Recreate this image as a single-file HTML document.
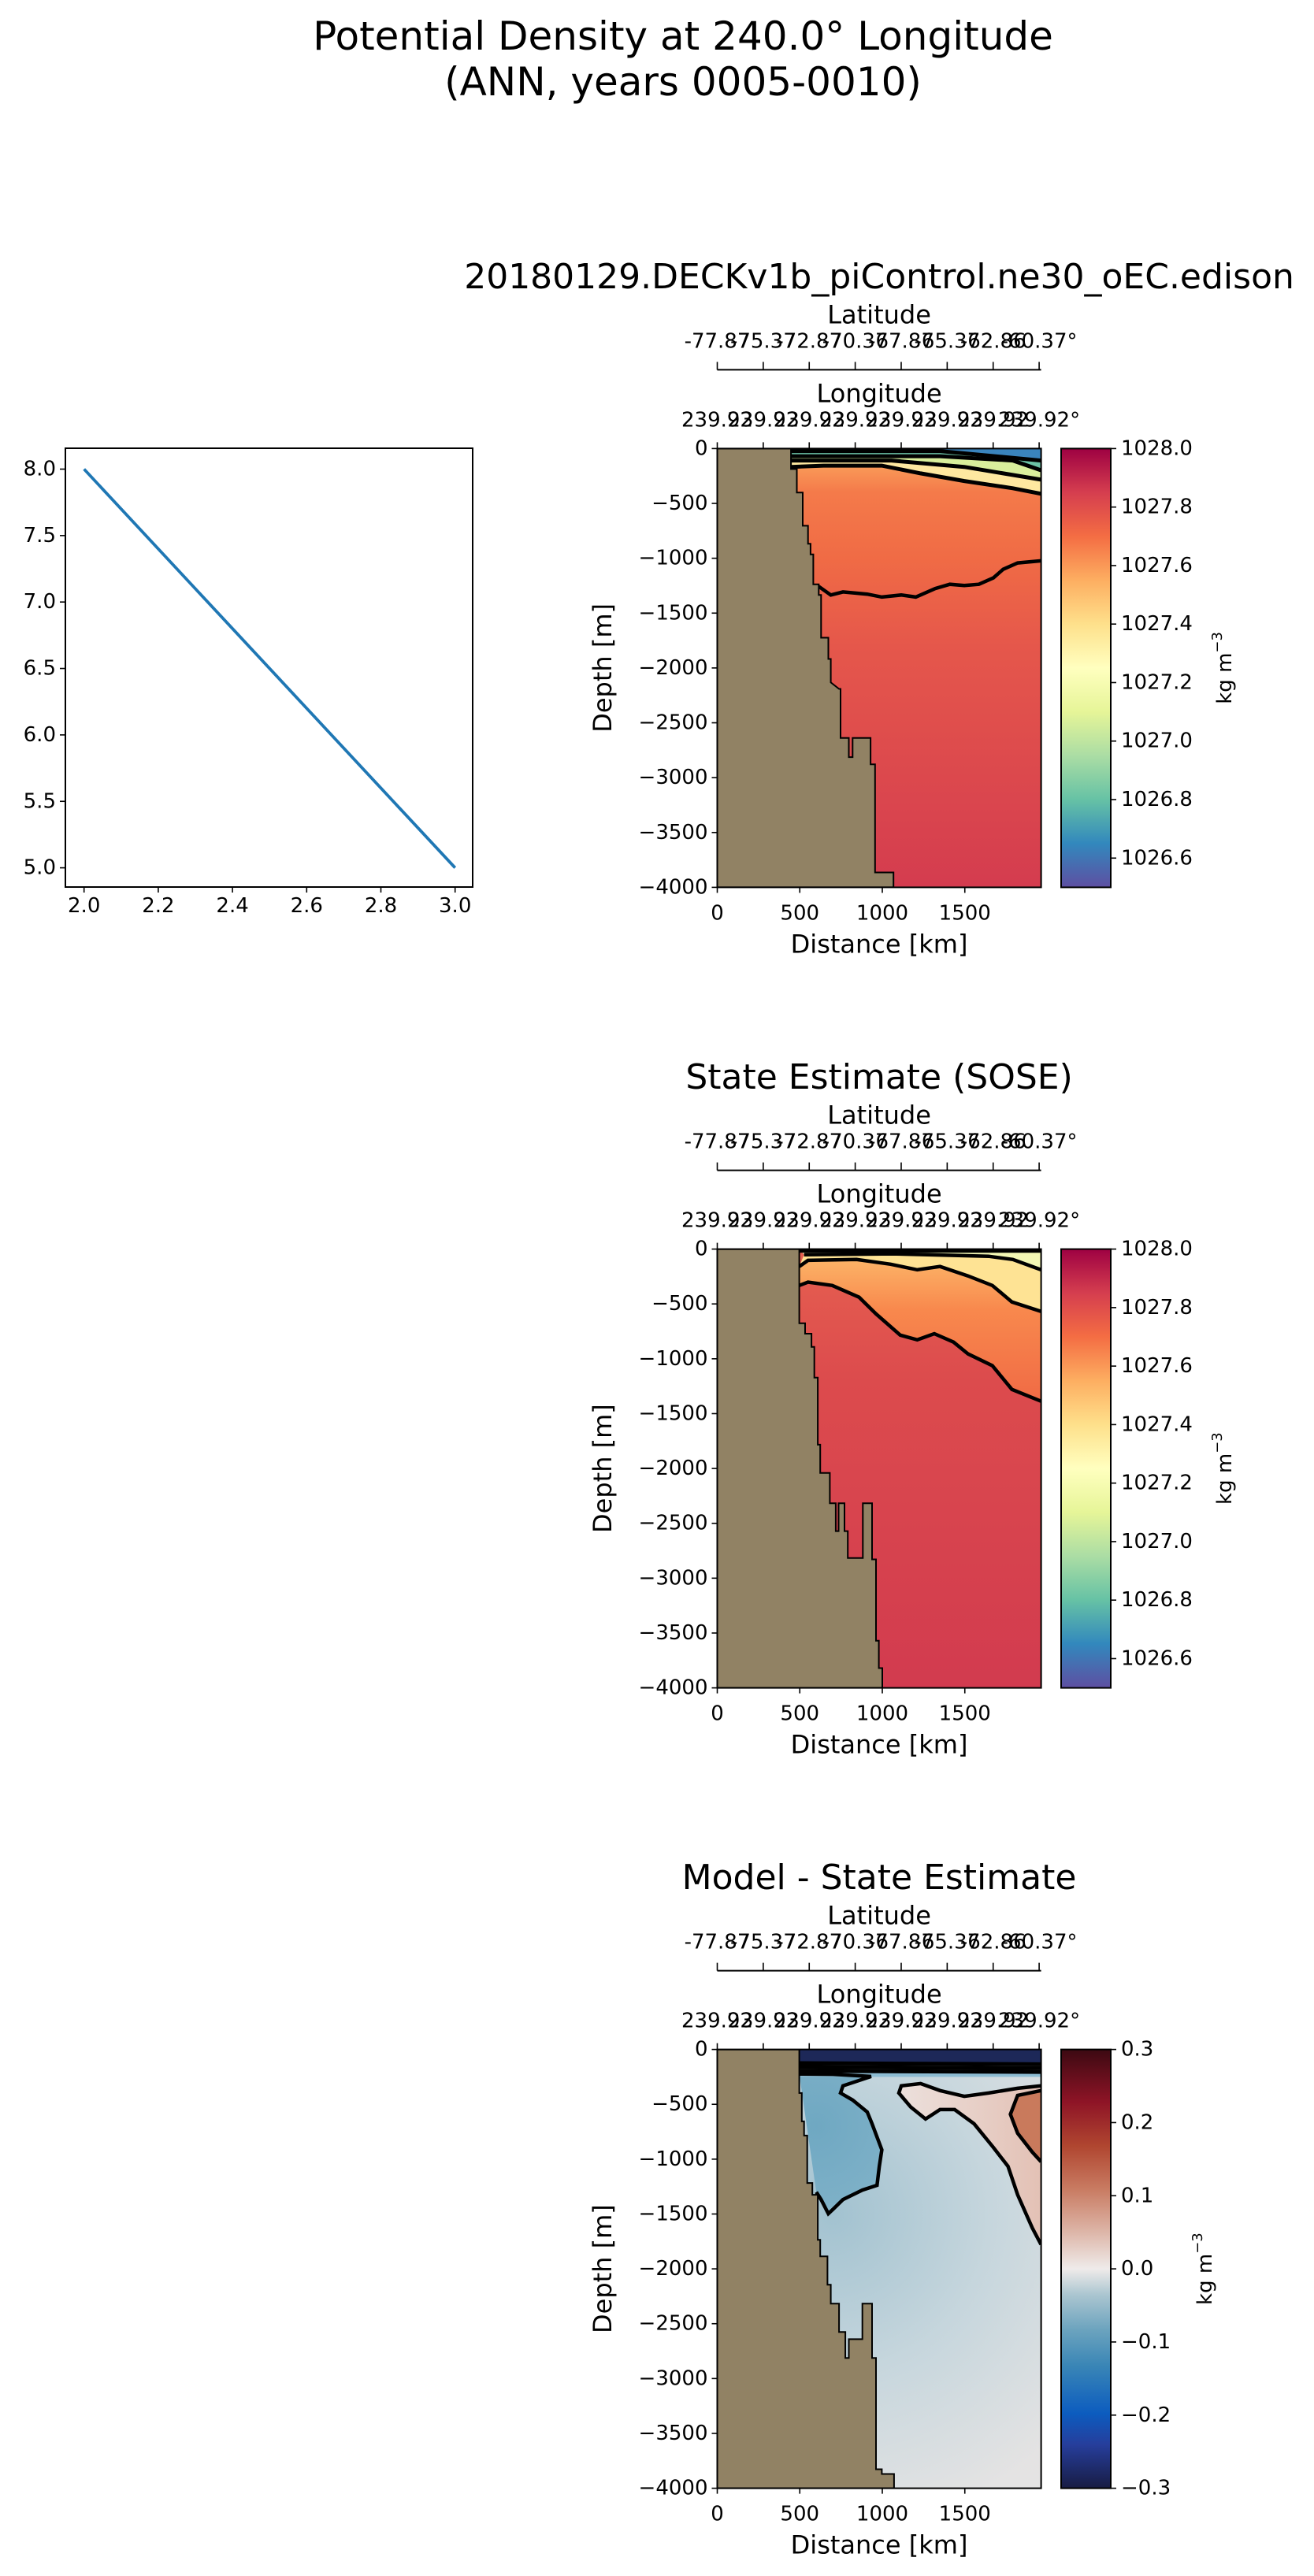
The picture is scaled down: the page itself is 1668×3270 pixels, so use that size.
<!DOCTYPE html>
<html><head><meta charset="utf-8"><style>
html,body{margin:0;padding:0;background:#fff;}
svg{display:block;font-family:"DejaVu Sans","Liberation Sans",sans-serif;}
</style></head><body>
<svg id="fig" width="1668" height="3270" viewBox="0 0 1668 3270" xmlns="http://www.w3.org/2000/svg">
<defs id="defs"></defs>
<text x="867" y="46" font-size="50" text-anchor="middle" dominant-baseline="central">Potential Density at 240.0° Longitude</text>
<text x="867" y="104" font-size="50" text-anchor="middle" dominant-baseline="central">(ANN, years 0005-0010)</text>
</svg>
<script>
// ---------- data ----------
const lineX = [2.0, 3.0];
const lineY = [8.0, 5.0];
const lineXTicks = [2.0, 2.2, 2.4, 2.6, 2.8, 3.0];
const lineYTicks = [5.0, 5.5, 6.0, 6.5, 7.0, 7.5, 8.0];

const distTicks = [0, 500, 1000, 1500];
const depthTicks = [0, 500, 1000, 1500, 2000, 2500, 3000, 3500, 4000];
const latLabels = ["-77.87", "-75.37", "-72.87", "-70.37", "-67.87", "-65.37", "-62.86", "-60.37°"];
const lonLabels = ["239.92", "239.92", "239.92", "239.92", "239.92", "239.92", "239.92", "239.92°"];
const densTicks = [1026.6, 1026.8, 1027.0, 1027.2, 1027.4, 1027.6, 1027.8, 1028.0];
const diffTicks = [-0.3, -0.2, -0.1, 0.0, 0.1, 0.2, 0.3];
const panelTitles = ["20180129.DECKv1b_piControl.ne30_oEC.edison", "State Estimate (SOSE)", "Model - State Estimate"];

// bathymetry [km, depth m]
const landP1 = [[0,0],[447,0],[447,187],[482,187],[482,401],[518,401],[518,704],[550,704],[550,868],[565,868],[565,965],[582,965],[582,1237],[615,1237],[615,1335],[629,1335],[629,1724],[673,1724],[673,1918],[688,1918],[688,2132],[738,2191],[747,2191],[747,2638],[797,2638],[797,2813],[820,2813],[820,2638],[929,2638],[929,2879],[956,2879],[956,3864],[1068,3864],[1068,4000],[0,4000]];
const landP2 = [[0,0],[497,0],[497,676],[532,676],[532,771],[571,771],[571,891],[588,891],[588,1171],[609,1171],[609,1783],[624,1783],[624,2041],[682,2041],[682,2317],[718,2317],[718,2571],[735,2571],[735,2317],[771,2317],[771,2571],[791,2571],[791,2816],[882,2816],[882,2317],[938,2317],[938,2829],[962,2829],[962,3570],[979,3570],[979,3820],[1000,3820],[1000,4000],[0,4000]];
const landP3 = [[0,0],[497,0],[497,397],[512,397],[512,656],[526,656],[526,785],[545,785],[545,1217],[576,1217],[576,1325],[609,1325],[609,1735],[624,1735],[624,1886],[668,1886],[668,2145],[688,2145],[688,2317],[738,2317],[738,2576],[776,2576],[776,2813],[797,2813],[797,2641],[879,2641],[879,2317],[938,2317],[938,2813],[962,2813],[962,3827],[997,3827],[997,3870],[1071,3870],[1071,4000],[0,4000]];

// contours [km, depth m]
const p1Deep = [[615,1257],[688,1335],[762,1307],[909,1327],[997,1354],[1115,1335],[1203,1354],[1321,1276],[1409,1237],[1497,1249],[1585,1237],[1673,1179],[1732,1101],[1820,1043],[1962,1023]];
const p1C1 = [[447,167],[644,156],[997,156],[1232,226],[1497,296],[1791,362],[1962,412]];
const p1C2 = [[447,109],[1056,109],[1497,167],[1962,284]];
const p1C3 = [[447,70],[1350,70],[1791,109],[1962,198]];
const p1C4 = [[447,23],[1350,23],[1962,109]];
const p2L1 = [[497,332],[550,301],[697,332],[859,439],[962,590],[1109,784],[1212,827],[1315,771],[1432,848],[1520,956],[1667,1063],[1785,1279],[1962,1387]];
const p2L2 = [[497,159],[550,103],[844,95],[1050,138],[1212,189],[1350,159],[1520,245],[1667,332],[1785,482],[1962,568]];
const p2L3 = [[526,52],[1056,43],[1644,65],[1791,95],[1962,189]];
const p2L4 = [[497,17],[1962,17]];
const p3Blue = [[497,224],[700,226],[932,246],[762,332],[747,397],[821,462],[909,570],[938,677],[997,915],[982,1066],[968,1238],[879,1282],[762,1368],[703,1454],[673,1497],[629,1368],[600,1300]];
const p3RedTop = [[1115,332],[1232,311],[1350,375],[1497,427],[1644,397],[1820,354],[1962,332]];
const p3RedOuter = [[1115,332],[1100,397],[1173,526],[1262,634],[1350,548],[1438,548],[1556,677],[1673,893],[1762,1066],[1820,1325],[1909,1627],[1962,1778]];
const p3RedInner = [[1962,375],[1820,419],[1776,591],[1820,764],[1909,936],[1962,1023]];
const p3Surface = [[497,125],[1962,135]];
const p3Surface2 = [[497,160],[1962,170]];
const p3Surface3 = [[497,195],[1962,205]];

// ---------- drawing ----------
const NS = "http://www.w3.org/2000/svg";
const svg = document.getElementById("fig");
const defs = document.getElementById("defs");
function mk(tag, attrs, parent) {
  const e = document.createElementNS(NS, tag);
  for (const k in attrs) e.setAttribute(k, attrs[k]);
  (parent || svg).appendChild(e);
  return e;
}
function txt(str, attrs, parent) { const t = mk("text", attrs, parent); t.textContent = str; return t; }
function fmtMinus(v, d) { const s = Math.abs(v).toFixed(d); return (v < 0 ? "\u2212" : "") + s; }
function grad(id, x1, y1, x2, y2, stops) {
  const g = mk("linearGradient", {id: id, gradientUnits: "userSpaceOnUse", x1: x1, y1: y1, x2: x2, y2: y2}, defs);
  stops.forEach(s => mk("stop", {offset: s[0], "stop-color": s[1]}, g));
  return g;
}

// ---- line plot ----
const LX0 = 83, LX1 = 600, LY0 = 569, LY1 = 1126;
const lxs = v => 106.7 + (v - 2.0) / 1.0 * (577.7 - 106.7);
const lys = v => 1101.6 - (v - 5.0) / 3.0 * (1101.6 - 595.5);
const lineG = mk("g", {});


lineXTicks.forEach(v => {
  const tk = mk("line", {x1: lxs(v), x2: lxs(v), y1: LY1, y2: LY1 + 7, stroke: "#000", "stroke-width": 1.6}, lineG);
  
  
  const tl = txt(v.toFixed(1), {x: lxs(v), y: LY1 + 24, "font-size": 26, "text-anchor": "middle", "dominant-baseline": "central"}, lineG);
  
  
});
lineYTicks.forEach(v => {
  const tk = mk("line", {x1: LX0 - 7, x2: LX0, y1: lys(v), y2: lys(v), stroke: "#000", "stroke-width": 1.6}, lineG);
  
  
  const tl = txt(v.toFixed(1), {x: LX0 - 12, y: lys(v), "font-size": 26, "text-anchor": "end", "dominant-baseline": "central"}, lineG);
  
  
});
const series = mk("polyline", {points: lineX.map((x, i) => lxs(x) + "," + lys(lineY[i])).join(" "), fill: "none", stroke: "#1f77b4", "stroke-width": 3.8}, lineG);


const lframe = mk("rect", {x: LX0, y: LY0, width: LX1 - LX0, height: LY1 - LY0, fill: "none", stroke: "#000", "stroke-width": 2}, lineG);



// ---- section panels ----
const tops = [569.4, 1585.6, 2601.6];
const PX0 = 910.5, PX1 = 1321.6, PH = 557;
const sx = km => PX0 + km * 0.2095;

const spectral = [[0,"#5e4fa2"],[0.1,"#3288bd"],[0.2,"#66c2a5"],[0.3,"#abdda4"],[0.4,"#e6f598"],[0.5,"#ffffbf"],[0.6,"#fee08b"],[0.7,"#fdae61"],[0.8,"#f46d43"],[0.9,"#d53e4f"],[1,"#9e0142"]];
const balance = [[0,"#181c43"],[0.1,"#263e9c"],[0.17,"#0c5cbf"],[0.28,"#3a86b6"],[0.36,"#6ba3be"],[0.44,"#aac5d0"],[0.5,"#efebea"],[0.58,"#deb8ab"],[0.68,"#c97c63"],[0.78,"#b04630"],[0.88,"#8e1426"],[1,"#3c0912"]];

function panel(i) {
  const T = tops[i];
  const sy = d => T + d / 4000 * PH;
  const pts = arr => arr.map(p => sx(p[0]).toFixed(1) + "," + sy(p[1]).toFixed(1)).join(" ");
  const band = (upper, lower) => pts(upper) + " " + pts(lower.slice().reverse());
  const g = mk("g", {});
  
  

  const title = txt(panelTitles[i], {x: (PX0 + PX1) / 2, y: T - 218, "font-size": 44, "text-anchor": "middle", "dominant-baseline": "central"}, g);
  
  

  const cp = mk("clipPath", {id: "clip" + i}, defs);
  mk("rect", {x: PX0, y: T, width: PX1 - PX0, height: PH}, cp);
  const plot = mk("g", {"clip-path": "url(#clip" + i + ")"}, g);
  
  

  if (i === 0) {
    grad("bg0", 0, T, 0, T + PH, [[0,"#fdae61"],[0.1,"#f47a4a"],[0.25,"#f06b45"],[0.45,"#e5574b"],[1,"#d43c4f"]]);
    mk("rect", {x: PX0, y: T, width: PX1 - PX0, height: PH, fill: "url(#bg0)"}, plot);
    mk("polygon", {points: band([[447,0],[1962,0]], p1C1), fill: "#fdd07f"}, plot);
    mk("polygon", {points: band(p1C2, p1C1), fill: "#fee8a0"}, plot);
    mk("polygon", {points: band(p1C3, p1C2), fill: "#d9ef9c"}, plot);
    mk("polygon", {points: band(p1C4, p1C3), fill: "#6cc3a6"}, plot);
    mk("polygon", {points: band([[447,0],[1962,0]], p1C4), fill: "#3a84bd"}, plot);
    [p1C1, p1C2, p1C3, p1C4].forEach(c => {
      const l = mk("polyline", {points: pts(c), fill: "none", stroke: "#000", "stroke-width": 5}, plot);
      
      
    });
    const d = mk("polyline", {points: pts(p1Deep), fill: "none", stroke: "#000", "stroke-width": 4.5}, plot);
    
    
  } else if (i === 1) {
    grad("bg1", 0, T, 0, T + PH, [[0,"#e66050"],[0.3,"#dc4b4d"],[1,"#d23b4f"]]);
    mk("rect", {x: PX0, y: T, width: PX1 - PX0, height: PH, fill: "url(#bg1)"}, plot);
    grad("or1", 0, T, 0, T + PH * 0.35, [[0,"#fdbc6c"],[0.4,"#f8884d"],[1,"#f06a45"]]);
    mk("polygon", {points: band(p2L2, p2L1), fill: "url(#or1)"}, plot);
    mk("polygon", {points: band(p2L3, p2L2), fill: "#fee394"}, plot);
    mk("polygon", {points: band([[497,0],[1962,0]], p2L3), fill: "#f3f7b4"}, plot);
    [p2L1, p2L2, p2L3, p2L4].forEach(c => {
      const l = mk("polyline", {points: pts(c), fill: "none", stroke: "#000", "stroke-width": 4.5}, plot);
      
      
    });
  } else {
    const rg = mk("radialGradient", {id: "bg2", gradientUnits: "userSpaceOnUse", cx: sx(700), cy: sy(1500), r: 400}, defs);
    [[0,"#a2c2d0"],[0.5,"#c6d6dd"],[1,"#e4e3e3"]].forEach(s => mk("stop", {offset: s[0], "stop-color": s[1]}, rg));
    mk("rect", {x: PX0, y: T, width: PX1 - PX0, height: PH, fill: "#e4e3e3"}, plot);
    mk("rect", {x: PX0, y: T, width: PX1 - PX0, height: PH, fill: "url(#bg2)"}, plot);
    const bg = mk("radialGradient", {id: "blue2", gradientUnits: "userSpaceOnUse", cx: sx(600), cy: sy(700), r: 140}, defs);
    [[0,"#6fa8c2"],[0.7,"#7db0c7"],[1,"#9cc0d0"]].forEach(s => mk("stop", {offset: s[0], "stop-color": s[1]}, bg));
    mk("polygon", {points: pts(p3Blue), fill: "url(#blue2)"}, plot);
    grad("pink2", sx(1100), 0, sx(1962), 0, [[0,"#ece0dc"],[1,"#e3c1b5"]]);
    mk("polygon", {points: pts(p3RedTop) + " " + pts(p3RedOuter.slice().reverse()) + " " + sx(1962) + "," + sy(1778), fill: "url(#pink2)"}, plot);
    mk("polygon", {points: pts(p3RedInner), fill: "#c97a5c"}, plot);
    mk("rect", {x: PX0, y: sy(200), width: PX1 - PX0, height: sy(250) - sy(200), fill: "#8dbcd2"}, plot);
    mk("rect", {x: PX0, y: T, width: PX1 - PX0, height: sy(130) - T, fill: "#1d2858"}, plot);
    [p3Surface, p3Surface2, p3Surface3].forEach(c => {
      const l = mk("polyline", {points: pts(c), fill: "none", stroke: "#000", "stroke-width": 5}, plot);
      
      
    });
    [p3Blue, p3RedInner].forEach(c => {
      const l = mk("polyline", {points: pts(c), fill: "none", stroke: "#000", "stroke-width": 4.5}, plot);
      
      
    });
    const ro = mk("polyline", {points: pts(p3RedTop.slice().reverse().concat(p3RedOuter)), fill: "none", stroke: "#000", "stroke-width": 4.5}, plot);
    
    
  }
  const land = mk("polygon", {points: pts([landP1, landP2, landP3][i]), fill: "#918264", stroke: "#000", "stroke-width": 2}, plot);
  
  

  const frame = mk("rect", {x: PX0, y: T, width: PX1 - PX0, height: PH, fill: "none", stroke: "#000", "stroke-width": 2}, g);
  
  

  distTicks.forEach(v => {
    const tk = mk("line", {x1: sx(v), x2: sx(v), y1: T + PH, y2: T + PH + 7, stroke: "#000", "stroke-width": 1.6}, g);
    
    
    const tl = txt(String(v), {x: sx(v), y: T + PH + 33, "font-size": 26, "text-anchor": "middle", "dominant-baseline": "central"}, g);
    
    
  });
  const xl = txt("Distance [km]", {x: (PX0 + PX1) / 2, y: T + PH + 72, "font-size": 32, "text-anchor": "middle", "dominant-baseline": "central"}, g);
  
  
  depthTicks.forEach(v => {
    const tk = mk("line", {x1: PX0 - 7, x2: PX0, y1: sy(v), y2: sy(v), stroke: "#000", "stroke-width": 1.6}, g);
    
    
    const tl = txt(fmtMinus(-v, 0), {x: PX0 - 12, y: sy(v), "font-size": 26, "text-anchor": "end", "dominant-baseline": "central"}, g);
    
    
  });
  const yl = txt("Depth [m]", {x: 765, y: T + PH / 2, "font-size": 32, "text-anchor": "middle", "dominant-baseline": "central", transform: "rotate(-90 765 " + (T + PH / 2) + ")"}, g);
  
  

  const n = lonLabels.length;
  for (let k = 0; k < n; k++) {
    const x = PX0 + k / (n - 1) * (PX1 - PX0 - 2.5);
    const t1 = mk("line", {x1: x, x2: x, y1: T, y2: T - 8, stroke: "#000", "stroke-width": 1.6}, g);
    
    
    const l1 = txt(lonLabels[k], {x: x, y: T - 36, "font-size": 26, "text-anchor": "middle", "dominant-baseline": "central"}, g);
    
    
    const t2 = mk("line", {x1: x, x2: x, y1: T - 100, y2: T - 110, stroke: "#000", "stroke-width": 1.6}, g);
    
    
    const l2 = txt(latLabels[k], {x: x, y: T - 136, "font-size": 26, "text-anchor": "middle", "dominant-baseline": "central"}, g);
    
    
  }
  const latLine = mk("line", {x1: PX0, x2: PX1, y1: T - 100, y2: T - 100, stroke: "#000", "stroke-width": 2}, g);
  
  
  const lonT = txt("Longitude", {x: (PX0 + PX1) / 2, y: T - 70, "font-size": 32, "text-anchor": "middle", "dominant-baseline": "central"}, g);
  
  
  const latT = txt("Latitude", {x: (PX0 + PX1) / 2, y: T - 170, "font-size": 32, "text-anchor": "middle", "dominant-baseline": "central"}, g);
  
  

  const CX0 = 1347, CX1 = 1410;
  const isDiff = i === 2;
  const stops = isDiff ? balance : spectral;
  grad("cb" + i, 0, T + PH, 0, T, stops);
  const cb = mk("rect", {x: CX0, y: T, width: CX1 - CX0, height: PH, fill: "url(#cb" + i + ")", stroke: "#000", "stroke-width": 2}, g);
  
  
  const ticks = isDiff ? diffTicks : densTicks;
  const vmin = isDiff ? -0.3 : 1026.5, vmax = isDiff ? 0.3 : 1028.0;
  ticks.forEach(v => {
    const y = T + PH - (v - vmin) / (vmax - vmin) * PH;
    const tk = mk("line", {x1: CX1, x2: CX1 + 7, y1: y, y2: y, stroke: "#000", "stroke-width": 1.6}, g);
    
    
    const tl = txt(isDiff ? fmtMinus(v, 1) : v.toFixed(1), {x: CX1 + 13, y: y, "font-size": 26, "text-anchor": "start", "dominant-baseline": "central"}, g);
    
    
  });
  const ux = isDiff ? 1530 : 1555;
  const unit = mk("text", {x: ux, y: T + PH / 2, "font-size": 26, "text-anchor": "middle", "dominant-baseline": "central", transform: "rotate(-90 " + ux + " " + (T + PH / 2) + ")"}, g);
  
  
  unit.appendChild(document.createTextNode("kg m"));
  const sup = mk("tspan", {"font-size": 18, dy: -10}, unit);
  sup.textContent = "\u22123";
}
[0, 1, 2].forEach(panel);
</script>
</body></html>
